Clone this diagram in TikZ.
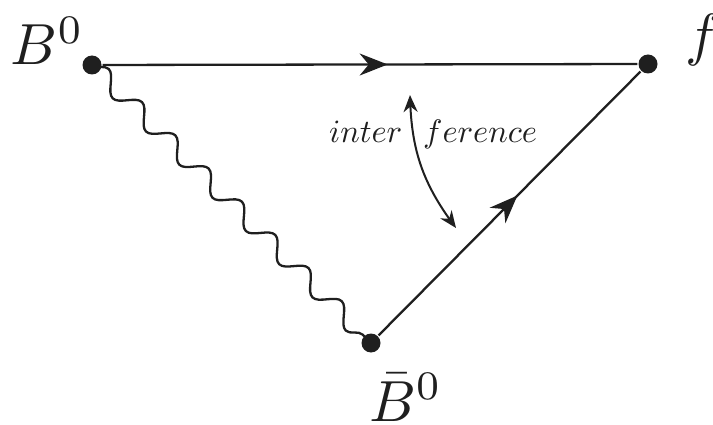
\documentclass[tikz,border=0pt]{standalone}
\usepackage{graphicx}
\usetikzlibrary{arrows.meta,decorations.pathmorphing,decorations.markings,bending}
\newcommand{\lblmath}[1]{\scalebox{5.8}{$#1$}}
\newcommand{\txtmath}[1]{\scalebox{3.25}{$#1$}}
\begin{document}
\begin{tikzpicture}[x=1pt,y=-1pt,
  line width=2.3pt, color=black!88,
  dot/.style={circle,fill,inner sep=0pt,minimum size=19pt},
  lbl/.style={inner sep=0pt},
  txt/.style={inner sep=0pt},
  midarrow/.style={postaction={decorate},decoration={markings,mark=at position #1 with {\arrow{Stealth[length=28pt,width=22pt]}}}},
  wave/.style={decorate,decoration={snake,segment length=47pt,amplitude=9pt}},
  dblarrow/.style={line width=2pt,>={Stealth[length=17pt,width=14pt,flex]},<->},
  ]
\useasboundingbox (0,0) rectangle (713,425);
\node[dot] (b) at (92,65) {};
\node[dot] (f) at (648,64) {};
\node[dot] (bb) at (371,343) {};
\node[lbl,anchor=base east] (lb) at (85,65) {\lblmath{B^0}};
\node[lbl,anchor=base west] (lf) at (684,55) {\lblmath{f}};
\node[lbl,anchor=base west] (lbb) at (368,421) {\lblmath{\bar B^0}};
\node[txt,anchor=base west] (t1) at (328,143) {\txtmath{inter}};
\node[txt,anchor=base west] (t2) at (422,143) {\txtmath{ference}};
\draw[midarrow=0.533] (b) -- (f);
\draw[midarrow=0.53] (bb) -- (f);
\draw[wave] (b.center) -- (bb.center);
\coordinate (ia) at (410,95);
\coordinate (ib) at (456,228);
\draw[dblarrow] (ia) to[bend right=18] (ib);
\end{tikzpicture}
\end{document}
